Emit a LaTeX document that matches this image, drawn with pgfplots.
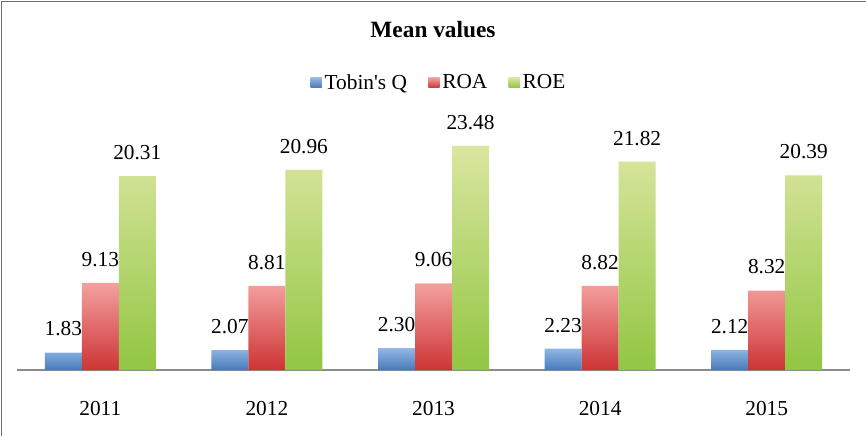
\documentclass[border=0pt]{standalone}
\usepackage{fontspec}
\setmainfont{Liberation Serif}
\usepackage{pgfplots}
\pgfplotsset{compat=1.18}
\definecolor{bluetop}{RGB}{146,184,228}
\definecolor{bluebot}{RGB}{72,122,186}
\definecolor{redtop}{RGB}{244,160,160}
\definecolor{redbot}{RGB}{206,52,52}
\definecolor{greentop}{RGB}{218,230,160}
\definecolor{greenbot}{RGB}{146,198,66}
\definecolor{framegray}{RGB}{110,110,110}
\definecolor{axisgray}{RGB}{140,140,140}
\begin{document}
\begin{tikzpicture}
\useasboundingbox (0,0) rectangle (649.5pt,327pt);
\draw[framegray, line width=1.1pt] (1.2pt,0) -- (1.2pt,325.8pt) -- (649.5pt,325.8pt);
\node[font=\fontsize{17.5}{20}\selectfont\bfseries] at (324.75pt,304.5pt) {Mean values};
\begin{axis}[
  at={(12.75pt,49.5pt)}, anchor=south west,
  scale only axis, width=624.75pt, height=186.2pt,
  xmin=-0.5, xmax=4.5, ymin=0, ymax=26,
  axis x line=bottom, axis line style={axisgray, line width=1.4pt, -},
  hide y axis,
  xtick={0,1,2,3,4}, xticklabels={2011,2012,2013,2014,2015},
  major tick length=0pt,
  xticklabel style={font=\fontsize{16}{19}\selectfont, inner sep=0pt, anchor=north, yshift=-23pt},
  ybar, bar width=27.75pt,
  /pgf/number format/.cd, fixed, zerofill, precision=2, assume math mode=true, /pgfplots/.cd,
  nodes near coords,
  every node near coord/.append style={font=\fontsize{16}{19}\selectfont, inner sep=0pt, anchor=south, yshift=12pt},
  legend columns=3,
  legend style={draw=none, fill=none, at={(0.507,1.157)}, anchor=center,
    font=\fontsize{16}{19}\selectfont, /tikz/every even column/.append style={column sep=14pt}},
  legend image code/.code={\path[#1, draw=none] (0pt,-3.7pt) rectangle (8.5pt,3.7pt);},
  clip=false,
]
\addplot[draw=none, top color=bluetop, bottom color=bluebot, bar shift=-27.75pt] coordinates {(0,1.83) (1,2.07) (2,2.30) (3,2.23) (4,2.12)};
\addplot[draw=none, top color=redtop, bottom color=redbot, bar shift=0pt] coordinates {(0,9.13) (1,8.81) (2,9.06) (3,8.82) (4,8.32)};
\addplot[draw=none, top color=greentop, bottom color=greenbot, bar shift=27.75pt] coordinates {(0,20.31) (1,20.96) (2,23.48) (3,21.82) (4,20.39)};
\legend{Tobin\textquotesingle s Q, ROA, ROE}
\end{axis}
\end{tikzpicture}
\end{document}
